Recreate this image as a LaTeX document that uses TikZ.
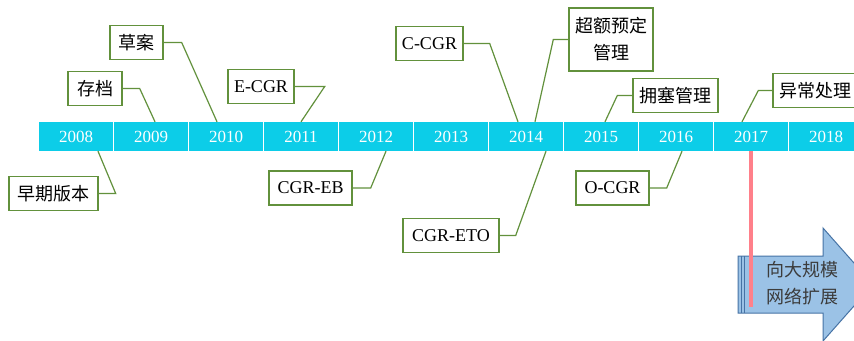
\documentclass[tikz,border=0pt]{standalone}
\usepackage{fontspec}
\setmainfont{Liberation Serif}
\newfontfamily\cjk{Noto Sans CJK SC}

\definecolor{barcyan}{RGB}{12,205,232}
\definecolor{boxgreen}{RGB}{98,145,60}
\definecolor{arrowblue}{RGB}{155,194,230}
\definecolor{arrowedge}{RGB}{70,115,165}
\definecolor{markpink}{RGB}{255,128,138}
\definecolor{arrowtext}{RGB}{60,60,60}

\tikzset{
  yearcell/.style={fill=barcyan, text=white, minimum width=74pt, minimum height=29pt, inner sep=0pt, font=\fontsize{17}{20}\selectfont},
  callout/.style={draw=boxgreen, line width=1.4pt, fill=white, minimum height=34pt, inner sep=0pt, font=\fontsize{18}{27}\selectfont},
  zh/.style={font=\cjk\fontsize{18}{27}\selectfont},
  leader/.style={draw=boxgreen, line width=1.2pt},
}

\begin{document}
\begin{tikzpicture}[x=1pt,y=-1pt]
    \clip (0,0) rectangle (854,340);
    \fill[white] (0,0) rectangle (854,340);

% the years
    \foreach \yr [count=\i from 0] in {2008,...,2018}
        \node[yearcell] (y\yr) at (76+75*\i,136.5) {\yr};

% above and below the bar
\node[callout, zh, minimum width=89pt] (early) at (53.5,193.5) {早期版本};
\node[callout, zh, minimum width=54pt] (archive) at (95,88.5) {存档};
\node[callout, zh, minimum width=53pt] (draft) at (136.5,42.5) {草案};
\node[callout, minimum width=66pt] (ecgr) at (261,86.5) {E-CGR};
\node[callout, minimum width=83pt] (cgreb) at (310.5,188) {CGR-EB};
\node[callout, minimum width=67pt] (ccgr) at (429.5,43.5) {C-CGR};
\node[callout, zh, minimum width=84pt, minimum height=63pt, align=center] (overbook) at (611,39.5) {超额预定\\管理};
\node[callout, minimum width=96pt] (cgreto) at (451,235.5) {CGR-ETO};
\node[callout, zh, minimum width=85pt] (congest) at (675.5,95.5) {拥塞管理};
\node[callout, minimum width=73pt] (ocgr) at (612.5,188) {O-CGR};
\node[callout, zh, minimum width=85pt] (anomaly) at (815.5,90.5) {异常处理};

\draw[leader] (early.east) -- ++(17,0) -- ([xshift=22pt]y2008.south);
\draw[leader] (archive.east) -- ++(17,0) -- ([xshift=4pt]y2009.north);
\draw[leader] (draft.east) -- ++(18,0) -- ([xshift=-9pt]y2010.north);
\draw[leader] (ecgr.east) -- ++(30,0) -- (y2011.north);
\draw[leader] (cgreb.east) -- ++(18,0) -- ([xshift=10pt]y2012.south);
\draw[leader] (ccgr.east) -- ++(26,0) -- ([xshift=-8pt]y2014.north);
\draw[leader] (overbook.west) -- ++(-15,0) -- ([xshift=9pt]y2014.north);
\draw[leader] (cgreto.east) -- ++(16,0) -- ([xshift=20pt]y2014.south);
\draw[leader] (congest.west) -- ++(-15,0) -- ([xshift=4pt]y2015.north);
\draw[leader] (ocgr.east) -- ++(17,0) -- ([xshift=6pt]y2016.south);
\draw[leader] (anomaly.west) -- ++(-14,0) -- ([xshift=-9pt]y2017.north);

% big arrow
\filldraw[fill=arrowblue, draw=arrowedge, line width=1pt] (738,256) -- (823,256) -- (823,228) -- (873,284.5) -- (823,341) -- (823,313) -- (738,313) -- cycle;
\draw[arrowedge, line width=1pt] (741.5,256) -- (741.5,313);
\draw[arrowedge, line width=0.6pt] (744.5,256) -- (744.5,313);
\node[zh, text=arrowtext, align=center] (expand) at (802,283.5) {向大规模\\网络扩展};

\draw[markpink, line width=4pt] (y2017.south) -- ++(0,156);

\end{tikzpicture}
\end{document}
